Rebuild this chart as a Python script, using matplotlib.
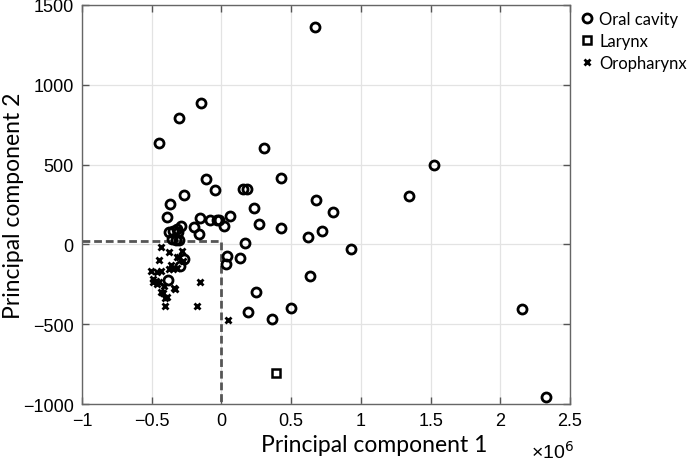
import numpy as np
import matplotlib
matplotlib.use("Agg")
import matplotlib.pyplot as plt

# principal component scores (PC1 in units of 1e6)
oral_pc1 = [0.669, -0.146, -0.304, -0.450, 0.306, -0.110, 0.430, -0.044, 0.153, 0.181,
            -0.272, 0.679, -0.371, 0.232, 0.801, -0.390, -0.153, -0.081, -0.032, -0.017,
            0.058, 0.018, -0.287, -0.200, 0.268, 0.428, 0.619, 0.722, 0.932, -0.162,
            0.168, -0.321, -0.345, -0.374, -0.309, -0.357, -0.326, -0.302, 0.043, 0.033,
            0.132, 0.632, -0.272, -0.300, -0.383, 0.193, 0.250, 0.365, 0.497, 1.523,
            1.346, 2.154, 2.326]
oral_pc2 = [1365, 888, 792, 635, 602, 412, 416, 338, 349, 345,
            310, 276, 256, 230, 201, 172, 165, 150, 151, 154,
            176, 115, 113, 111, 130, 101, 44, 86, -31, 68,
            6, 98, 86, 76, 76, 34, 28, 25, -71, -122,
            -87, -200, -91, -137, -225, -423, -296, -467, -398, 498,
            301, -407, -958]

larynx_pc1 = [0.392]
larynx_pc2 = [-806]

oro_pc1 = [-0.433, -0.374, -0.285, -0.321, -0.304, -0.445, -0.278, -0.374, -0.345, -0.321,
           -0.505, -0.464, -0.433, -0.493, -0.469, -0.445, -0.488, -0.464, -0.340, -0.433,
           -0.417, -0.392, -0.405, -0.402, -0.333, -0.154, -0.177, 0.050, -0.360, -0.410]
oro_pc2 = [-16, -46, -40, -77, -81, -98, -102, -154, -154, -150,
           -165, -175, -165, -217, -227, -237, -237, -248, -275, -300,
           -305, -331, -384, -338, -280, -234, -384, -474, -130, -260]

# threshold box
thr_pc1 = 0.0
thr_pc2 = 20

fig = plt.figure(figsize=(6.94, 4.64), dpi=100)
ax = fig.add_axes([82/694, 59/464, 488/694, 399/464])

ax.plot(oral_pc1, oral_pc2, 'o', ls='none', ms=6.5, mfc='none', mec='black', mew=2.0,
        label='Oral cavity', zorder=3)
ax.plot(larynx_pc1, larynx_pc2, 's', ls='none', ms=5.5, mfc='none', mec='black', mew=1.8,
        label='Larynx', zorder=3)
ax.plot(oro_pc1, oro_pc2, 'x', ls='none', ms=5, mec='black', mew=2.0,
        label='Oropharynx', zorder=3)

ax.plot([-1, thr_pc1, thr_pc1], [thr_pc2, thr_pc2, -1000], ls=(0, (2.8, 1.4)),
        color='#555555', lw=2.0, zorder=2)

ax.set_xlim(-1, 2.5)
ax.set_ylim(-1000, 1500)
ax.set_xticks(np.arange(-1, 2.51, 0.5))
ax.set_yticks(np.arange(-1000, 1501, 500))
ax.set_xticklabels(['\u22121', '\u22120.5', '0', '0.5', '1', '1.5', '2', '2.5'])
ax.set_yticklabels(['\u22121000', '\u2212500', '0', '500', '1000', '1500'])
ax.grid(True, color='#e3e3e3', lw=0.9, zorder=0)
ax.set_axisbelow(True)
ax.tick_params(direction='in', length=5, width=1, color='#555555', top=True, right=True,
               labelsize=13, pad=6)
for lab in ax.get_xticklabels() + ax.get_yticklabels():
    lab.set_fontfamily('Liberation Sans')
for s in ax.spines.values():
    s.set_color('#666666')
    s.set_linewidth(1.0)

ax.set_xlabel('Principal component 1', fontsize=16.5, family='Lato')
ax.set_ylabel('Principal component 2', fontsize=16.5, family='Lato')
ax.xaxis.set_label_coords(0.598, -0.075)
ax.yaxis.set_label_coords(-0.118, 0.5)

ax.text(0.965, -0.118, '\u00d710$^6$', transform=ax.transAxes, fontsize=14,
        family='Liberation Sans', ha='center', va='center')

ax.legend(loc='upper left', bbox_to_anchor=(1.0, 1.01), frameon=False,
          prop={'family': 'Lato', 'size': 12}, handlelength=0.8, handletextpad=0.35,
          labelspacing=0.35, borderaxespad=0.2)

fig.savefig('out.png', dpi=100)
